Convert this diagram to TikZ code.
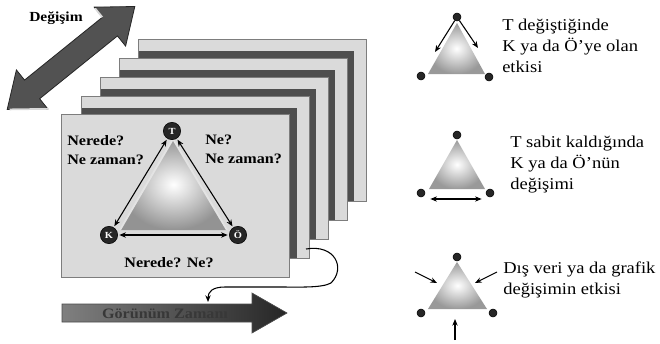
\documentclass[tikz,border=0pt]{standalone}
\usepackage{fontspec}
\setmainfont{Liberation Serif}[FakeStretch=1.12]
\usetikzlibrary{arrows.meta}

\definecolor{cardfill}{RGB}{218,218,218}
\definecolor{cardline}{RGB}{125,125,125}
\definecolor{cardband}{RGB}{78,78,78}
\definecolor{dotdark}{RGB}{38,38,38}

\tikzset{
	card/.style={fill=cardfill, draw=cardline, line width=0.6pt},
	band/.style={fill=cardband},
	vertex/.style={circle, fill=dotdark, draw=black, inner sep=0pt, minimum size=13pt, text=white, font=\bfseries\fontsize{7}{7}\selectfont},
	minivertex/.style={circle, fill=dotdark, draw=black, inner sep=0pt, minimum size=6pt},
	link/.style={{Stealth[length=5pt,width=4pt]}-{Stealth[length=5pt,width=4pt]}, line width=0.8pt, shorten <=1pt, shorten >=1pt},
	pointer/.style={-{Stealth[length=5pt,width=4pt]}, line width=0.8pt},
	cardtext/.style={anchor=north west, inner sep=0pt, align=left, font=\bfseries\fontsize{10.8}{14.2}\selectfont},
	sidetext/.style={anchor=north west, inner sep=0pt, align=left, font=\fontsize{12.4}{15.6}\selectfont}
}

\begin{document}
\begin{tikzpicture}[x=0.75pt,y=0.75pt,yscale=-1,xscale=1]
	\path[use as bounding box, fill=white] (0,0) rectangle (660,343);
	
	%Shape: Double Arrow (Degisim)
	\begin{scope}[shift={(71,58)}, rotate=-38.9]
		\draw [fill=black!68, draw=black!85, line width=0.6pt] (-82,0) -- (-50,-25) -- (-50,-12) -- (50,-12) -- (50,-25) -- (82,0) -- (50,25) -- (50,12) -- (-50,12) -- (-50,25) -- cycle ;
		\draw [white!70!gray, line width=1.3pt] (-80,1.5) -- (-50,25) ;
		\draw [white!70!gray, line width=1.3pt] (50,-23.5) -- (50,-12) ;
	\end{scope}
	% Text Node
	\draw (56,18) node (chg) [inner sep=0pt] {\bfseries\fontsize{10.4}{11}\selectfont Değişim};
	
	%Shape: Rectangle (back card)
	\draw [card] (138,39) rectangle (366,201) ;
	\fill [band] (138.5,51) rectangle (354,200.5) ;
	%Shape: Rectangle
	\draw [card] (119,58) rectangle (347,220) ;
	\fill [band] (119.5,70) rectangle (335,219.5) ;
	%Shape: Rectangle
	\draw [card] (100,77) rectangle (328,239) ;
	\fill [band] (100.5,89) rectangle (316,238.5) ;
	%Shape: Rectangle
	\draw [card] (81,96) rectangle (309,258) ;
	\fill [band] (81.5,108) rectangle (297,257.5) ;
	%Shape: Rectangle (front card)
	\draw [card] (61,114) rectangle (289,277) ;
	
	%Shape: Triangle
	\shade [inner color=white, outer color=gray!85] (173,139) -- (227,230) -- (120,230) -- cycle ;
	\draw [white!78!gray, line width=1.4pt, line join=round] (227,230) -- (173,139) -- (120,230) ;
	
	% Vertices
	\node [vertex] (T) at (172,131) {T};
	\node [vertex] (K) at (109,235) {K};
	\node [vertex] (O) at (238,235) {Ö};
	\draw [link] (T) -- (K) ;
	\draw [link] (T) -- (O) ;
	\draw [link] (K) -- (O) ;
	
	% Text Node
	\draw (67,135) node (wl) [cardtext] {Nerede?\\Ne zaman?};
	% Text Node
	\draw (205,135) node (wr) [cardtext] {Ne?\\Ne zaman?};
	% Text Node
	\draw (169,263) node (wb) [inner sep=0pt, font=\bfseries\fontsize{10.8}{12}\selectfont] {Nerede? Ne?};
	
	%Shape: Arrow (time line)
	\shade [left color=black!50, right color=black!85, draw=black!70, line width=0.5pt] (62,304) -- (252,304) -- (252,293) -- (287,313) -- (252,333) -- (252,322) -- (62,322) -- cycle ;
	% Text Node
	\draw (165,314) node (tl) [inner sep=0pt, text=black!78, font=\bfseries\fontsize{10.8}{12}\selectfont] {Görünüm Zamanı};
	
	% Curved connector
	\coordinate (cfrom) at (306,249);
	\coordinate (cto) at (208,302);
	\draw [pointer] (cfrom) .. controls (335,244) and (346,268) .. (331,283) .. controls (322,288) and (300,287) .. (280,287) -- (225,287) .. controls (212,287) and (208,292) .. (cto) ;
	
	%Shape: mini triangle 1
	\shade [inner color=white, outer color=gray!80] (457,23) -- (485,74) -- (428,74) -- cycle ;
	\node [minivertex] (t1) at (457,17) {};
	\node [minivertex] (k1) at (421,76) {};
	\node [minivertex] (o1) at (489,77) {};
	\coordinate (a1) at (435,52);
	\coordinate (b1) at (478,48);
	\draw [pointer] (t1) -- (a1) ;
	\draw [pointer] (t1) -- (b1) ;
	% Text Node
	\draw (502,19) node (s1) [sidetext] {T değiştiğinde\\K ya da Ö'ye olan\\etkisi};
	
	%Shape: mini triangle 2
	\shade [inner color=white, outer color=gray!80] (457,140) -- (485,189) -- (429,189) -- cycle ;
	\node [minivertex] (t2) at (457,135) {};
	\node [minivertex] (k2) at (421,193) {};
	\node [minivertex] (o2) at (490,193) {};
	\coordinate (a2) at (429,199);
	\coordinate (b2) at (483,199);
	\draw [link] (a2) -- (b2) ;
	% Text Node
	\draw (510,136) node (s2) [sidetext] {T sabit kaldığında\\K ya da Ö'nün\\değişimi};
	
	%Shape: mini triangle 3
	\shade [inner color=white, outer color=gray!80] (457,262) -- (487,309) -- (428,309) -- cycle ;
	\node [minivertex] (t3) at (457,257) {};
	\node [minivertex] (k3) at (421,313) {};
	\node [minivertex] (o3) at (493,313) {};
	\coordinate (a3) at (415,272);
	\coordinate (b3) at (437,283);
	\coordinate (c3) at (497,272);
	\coordinate (d3) at (475,283);
	\coordinate (e3) at (455,340);
	\coordinate (f3) at (455,319);
	\draw [pointer] (a3) -- (b3) ;
	\draw [pointer] (c3) -- (d3) ;
	\draw [pointer] (e3) -- (f3) ;
	% Text Node
	\draw (503,262) node (s3) [sidetext] {Dış veri ya da grafik\\değişimin etkisi};
	
\end{tikzpicture}
\end{document}
